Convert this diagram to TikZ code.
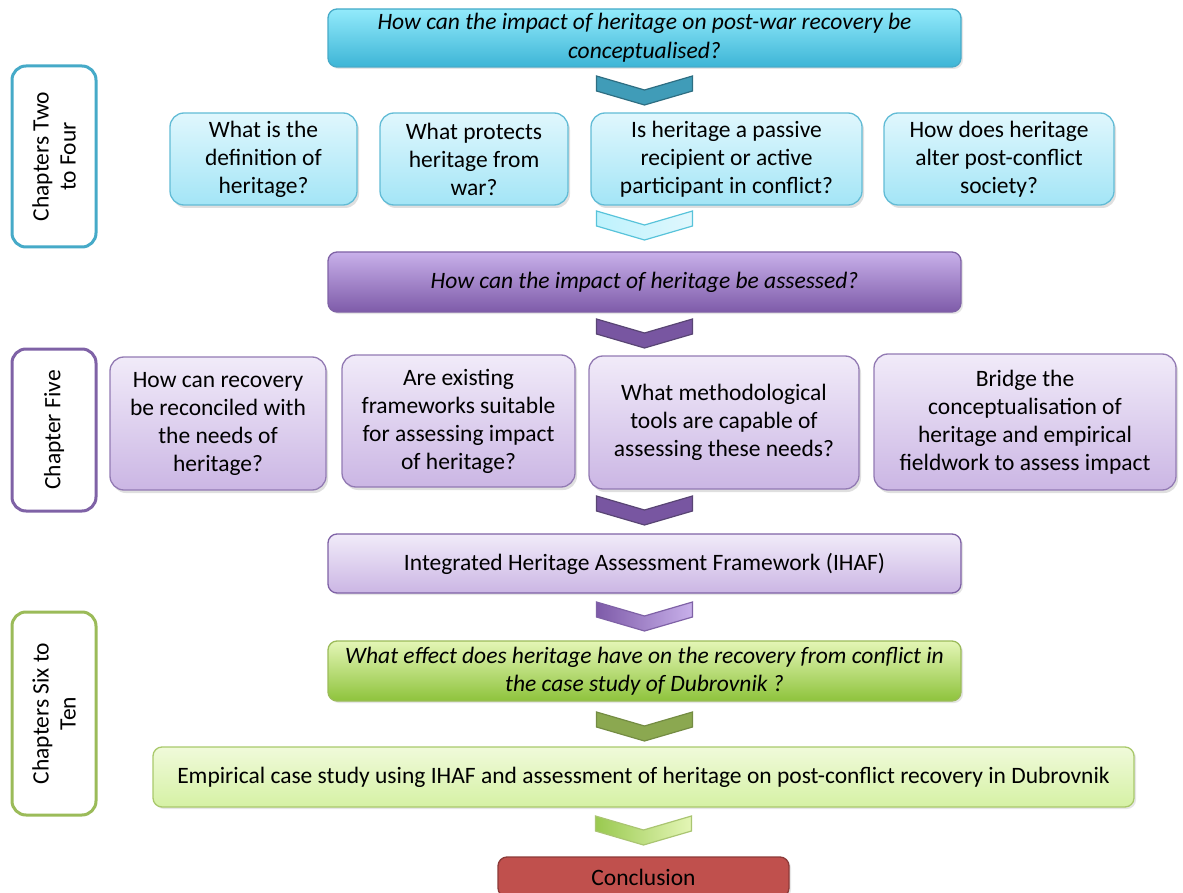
\documentclass[tikz,border=0pt]{standalone}
\usepackage{fontspec}
\setmainfont{Carlito}
\usetikzlibrary{shadows,calc}
\definecolor{cyB}{HTML}{46AAC8}
\definecolor{cyTop}{HTML}{92EAFB}
\definecolor{cyBot}{HTML}{3DB5D6}
\definecolor{lcyTop}{HTML}{E0F7FD}
\definecolor{lcyBot}{HTML}{A3E5F6}
\definecolor{lcyB}{HTML}{62BCD6}
\definecolor{puB}{HTML}{7F62A6}
\definecolor{puTop}{HTML}{C8B0EA}
\definecolor{puBot}{HTML}{7E5BA9}
\definecolor{lpuTop}{HTML}{F1EBF9}
\definecolor{lpuBot}{HTML}{CBB6E4}
\definecolor{grB}{HTML}{9BBB59}
\definecolor{grTop}{HTML}{E4F6B6}
\definecolor{grBot}{HTML}{8EC33C}
\definecolor{lgrTop}{HTML}{F0FADA}
\definecolor{lgrBot}{HTML}{D5F1A4}
\definecolor{lgrB}{HTML}{A9C96B}
\definecolor{redF}{HTML}{C0504D}
\definecolor{redB}{HTML}{8C3A38}
\tikzset{
  box/.style={rounded corners=9pt, line width=1.3pt, align=center, inner sep=0pt, outer sep=0pt,
    font=\fontsize{23.5}{28}\selectfont, text=black},
  qbox/.style={box, rounded corners=14pt, drop shadow={opacity=0.25, shadow xshift=2pt, shadow yshift=-3pt}},
  mainbox/.style={box, drop shadow={opacity=0.2, shadow xshift=2pt, shadow yshift=-2pt}},
  side/.style={rounded corners=14pt, line width=3pt, fill=white, align=center, inner sep=0pt, outer sep=0pt,
    rotate=90, font=\fontsize{23.5}{27}\selectfont},
  chev/.pic={\path[#1] (-48,0) -- (0,14) -- (48,0) -- (48,15) -- (0,29) -- (-48,15) -- cycle;}
}
\begin{document}
\begin{tikzpicture}[x=1pt,y=-1pt]
\useasboundingbox (0,0) rectangle (1183,893);
% --- top
\node[mainbox, draw=cyB, top color=cyTop, bottom color=cyBot, minimum width=633, minimum height=58,
  font=\fontsize{23.5}{29}\selectfont\itshape] (top) at (644.5,38)
  {How can the impact of heritage on post-war recovery be\\conceptualised?};
% --- row 1
\node[qbox, draw=lcyB, top color=lcyTop, bottom color=lcyBot, minimum width=187, minimum height=92] (q1) at (263.5,159)
  {What is the\\definition of\\heritage?};
\node[qbox, draw=lcyB, top color=lcyTop, bottom color=lcyBot, minimum width=188, minimum height=92] (q2) at (474,159)
  {What protects\\heritage from\\war?};
\node[qbox, draw=lcyB, top color=lcyTop, bottom color=lcyBot, minimum width=271, minimum height=92] (q3) at (726.5,159)
  {Is heritage a passive\\recipient or active\\participant in conflict?};
\node[qbox, draw=lcyB, top color=lcyTop, bottom color=lcyBot, minimum width=230, minimum height=92] (q4) at (999,159)
  {How does heritage\\alter post-conflict\\society?};
\node[side, draw=cyB, minimum width=181, minimum height=84] (s1) at (54,156.5) {Chapters Two\\to Four};
% --- assess
\node[mainbox, draw=puB, top color=puTop, bottom color=puBot, minimum width=633, minimum height=60,
  font=\fontsize{23.5}{28}\selectfont\itshape] (assess) at (644.5,282)
  {How can the impact of heritage be assessed?};
% --- row 2
\node[qbox, draw=puB!85, top color=lpuTop, bottom color=lpuBot, minimum width=216, minimum height=133] (p1) at (218,423.5)
  {How can recovery\\be reconciled with\\the needs of\\heritage?};
\node[qbox, draw=puB!85, top color=lpuTop, bottom color=lpuBot, minimum width=233, minimum height=132] (p2) at (458.5,421)
  {Are existing\\frameworks suitable\\for assessing impact\\of heritage?};
\node[qbox, draw=puB!85, top color=lpuTop, bottom color=lpuBot, minimum width=270, minimum height=133] (p3) at (724,422.5)
  {What methodological\\tools are capable of\\assessing these needs?};
\node[qbox, draw=puB!85, top color=lpuTop, bottom color=lpuBot, minimum width=302, minimum height=136] (p4) at (1025,422)
  {Bridge the\\conceptualisation of\\heritage and empirical\\fieldwork to assess impact};
\node[side, draw=puB, minimum width=162, minimum height=84] (s2) at (54,430) {Chapter Five};
% --- IHAF
\node[mainbox, draw=puB, top color=lpuTop, bottom color=lpuBot, minimum width=633, minimum height=59] (ihaf) at (644.5,563.5)
  {Integrated Heritage Assessment Framework (IHAF)};
% --- effect
\node[mainbox, draw=grB, top color=grTop, bottom color=grBot, minimum width=633, minimum height=60,
  font=\fontsize{23.5}{28}\selectfont\itshape] (effect) at (644.5,671)
  {What effect does heritage have on the recovery from conflict in\\the case study of Dubrovnik ?};
\node[side, draw=grB, minimum width=203, minimum height=84] (s3) at (54,713.5) {Chapters Six to\\Ten};
% --- empirical
\node[mainbox, draw=lgrB, top color=lgrTop, bottom color=lgrBot, minimum width=981, minimum height=60] (emp) at (643.5,777)
  {Empirical case study using IHAF and assessment of heritage on post-conflict recovery in Dubrovnik};
% --- conclusion
\node[mainbox, draw=redB, fill=redF, minimum width=291, minimum height=40] (concl) at (643.5,877) {Conclusion};
% --- chevrons between named nodes
\pic at ($(top.south)+(0,9)$) {chev={fill=cyB!92!black, draw=cyB!65!black, line width=1.2pt}};
\pic at ($(assess.north)+(0,-41)$) {chev={left color=cyTop!60!white, right color=lcyTop, draw=lcyB!90!cyan, line width=1.2pt}};
\pic at ($(assess.south)+(0,7)$) {chev={fill=puBot!95!black, draw=puB!70!black, line width=1.2pt}};
\pic at ($(ihaf.north)+(0,-38)$) {chev={fill=puBot!95!black, draw=puB!70!black, line width=1.2pt}};
\pic at ($(ihaf.south)+(0,9)$) {chev={left color=puBot, right color=puTop, draw=puB, line width=1.2pt}};
\pic at ($(effect.south)+(0,11)$) {chev={fill=grB!90!black, draw=grB!75!black, line width=1.2pt}};
\pic at ($(emp.south)+(0,9)$) {chev={left color=grBot!90!white, right color=grTop, draw=grB!85!white, line width=1.2pt}};
\end{tikzpicture}
\end{document}
